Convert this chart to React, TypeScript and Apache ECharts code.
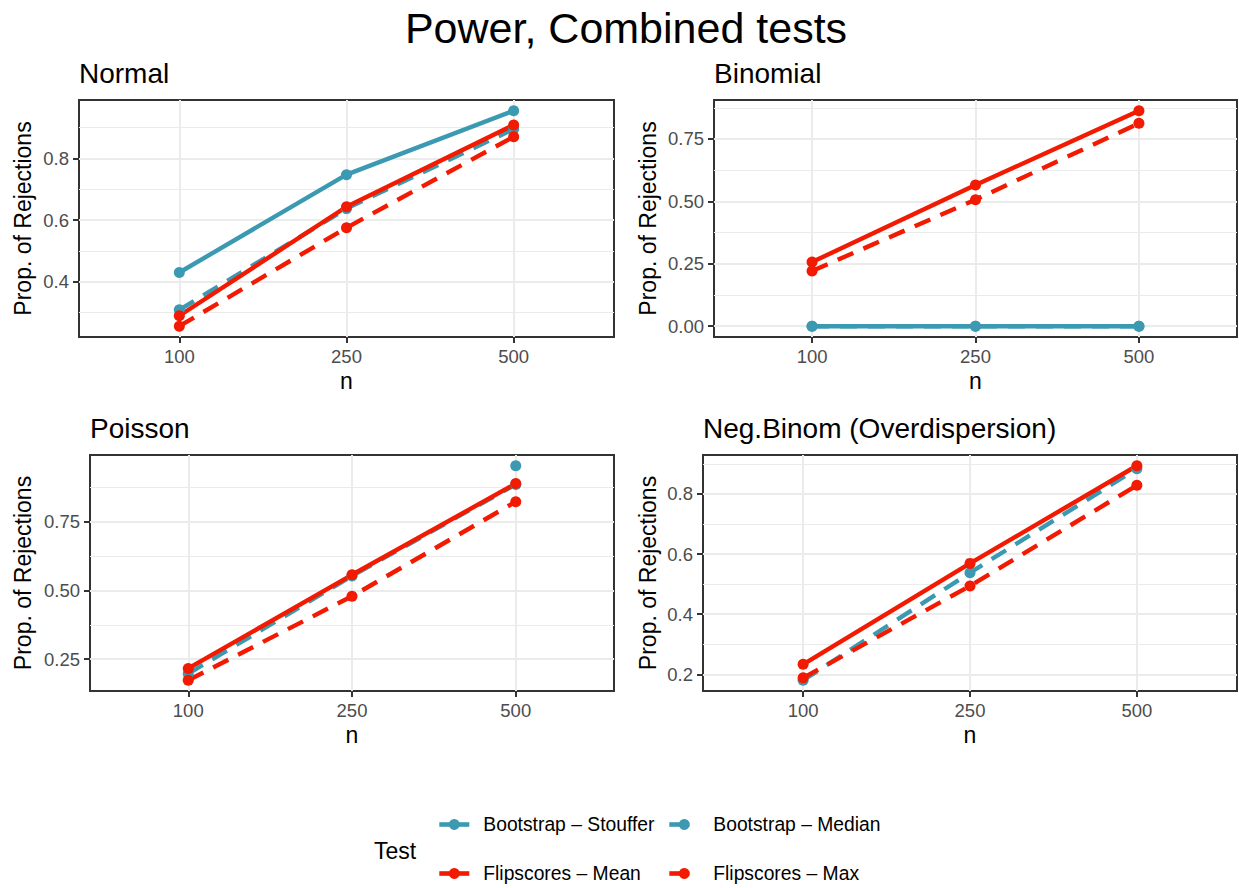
import React, { useEffect, useRef } from 'react';
import * as echarts from 'echarts';

// ---------- data ----------
const nLabels = ['100', '250', '500'];
const testNames = ['Bootstrap – Stouffer', 'Bootstrap – Median', 'Flipscores – Mean', 'Flipscores – Max'];
const panelTitles = ['Normal', 'Binomial', 'Poisson', 'Neg.Binom (Overdispersion)'];

const normalStouffer = [0.43, 0.747, 0.954];
const normalMedian = [0.309, 0.637, 0.895];
const normalMean = [0.29, 0.643, 0.908];
const normalMax = [0.256, 0.575, 0.87];

const binomialStouffer = [0, 0, 0];
const binomialMedian = [0, 0, 0];
const binomialMean = [0.257, 0.566, 0.863];
const binomialMax = [0.221, 0.507, 0.813];

const poissonStouffer = [null, null, 0.954];
const poissonMedian = [0.197, 0.553, 0.886];
const poissonMean = [0.216, 0.557, 0.889];
const poissonMax = [0.173, 0.479, 0.823];

const negbinStouffer = [null, null, null];
const negbinMedian = [0.18, 0.538, 0.884];
const negbinMean = [0.233, 0.569, 0.894];
const negbinMax = [0.188, 0.494, 0.829];

const normalTicks = [0.4, 0.6, 0.8];
const normalTickLabels = ['0.4', '0.6', '0.8'];
const normalMinor = [0.3, 0.5, 0.7, 0.9];
const binomialTicks = [0, 0.25, 0.5, 0.75];
const binomialTickLabels = ['0.00', '0.25', '0.50', '0.75'];
const binomialMinor = [0.125, 0.375, 0.625, 0.875];
const poissonTicks = [0.25, 0.5, 0.75];
const poissonTickLabels = ['0.25', '0.50', '0.75'];
const poissonMinor = [0.375, 0.625, 0.875];
const negbinTicks = [0.2, 0.4, 0.6, 0.8];
const negbinTickLabels = ['0.2', '0.4', '0.6', '0.8'];
const negbinMinor = [0.3, 0.5, 0.7, 0.9];

// ---------- styling / layout ----------
const TEAL = '#3B9AB2';
const RED = '#F21A00';
const FONT = "'Liberation Sans', Arial, Helvetica, sans-serif";
const seriesStyles = [
  { color: TEAL, dashed: false },
  { color: TEAL, dashed: true },
  { color: RED, dashed: false },
  { color: RED, dashed: true },
];
const DASH = [17, 11];
const LINE_W = 4.4;
const SYM = 11;

const panels = [
  { title: panelTitles[0], values: [normalStouffer, normalMedian, normalMean, normalMax], ticks: normalTicks, labels: normalTickLabels, minor: normalMinor },
  { title: panelTitles[1], values: [binomialStouffer, binomialMedian, binomialMean, binomialMax], ticks: binomialTicks, labels: binomialTickLabels, minor: binomialMinor },
  { title: panelTitles[2], values: [poissonStouffer, poissonMedian, poissonMean, poissonMax], ticks: poissonTicks, labels: poissonTickLabels, minor: poissonMinor },
  { title: panelTitles[3], values: [negbinStouffer, negbinMedian, negbinMean, negbinMax], ticks: negbinTicks, labels: negbinTickLabels, minor: negbinMinor },
];

const grids = [
  { left: 79, top: 100, width: 535, height: 237, yTitleX: 23 },
  { left: 714, top: 100, width: 523, height: 237, yTitleX: 648 },
  { left: 90, top: 455, width: 524, height: 236, yTitleX: 23 },
  { left: 703, top: 455, width: 534, height: 236, yTitleX: 648 },
];

function yRange(values: (number | null)[][]) {
  const all = values.flat().filter((v) => v !== null) as number[];
  const lo = Math.min(...all);
  const hi = Math.max(...all);
  const pad = (hi - lo) * 0.05;
  return [lo - pad, hi + pad];
}

function buildOption() {
  const xAxis: any[] = [];
  const yAxis: any[] = [];
  const minorY: any[] = [];
  const series: any[] = [];
  const graphic: any[] = [];

  graphic.push({
    type: 'text',
    x: 626,
    y: 28,
    style: { text: 'Power, Combined tests', font: `43px ${FONT}`, fill: '#000', textAlign: 'center', textVerticalAlign: 'middle', align: 'center', verticalAlign: 'middle' },
  });

  panels.forEach((p, i) => {
    const g = grids[i];
    const [lo, hi] = yRange(p.values);
    xAxis.push({
      type: 'value',
      gridIndex: i,
      position: 'bottom',
      min: -0.6,
      max: 2.6,
      axisLine: { show: false, onZero: false },
      axisTick: { show: true, customValues: [0, 1, 2], length: 6, lineStyle: { color: '#333333', width: 2 } },
      axisLabel: {
        customValues: [0, 1, 2],
        formatter: (v: number) => nLabels[Math.round(v)],
        color: '#4D4D4D',
        fontSize: 18.5,
        fontFamily: FONT,
        margin: 10,
      },
      splitLine: { show: true, lineStyle: { color: '#EBEBEB', width: 2 } },
    });
    yAxis.push({
      type: 'value',
      gridIndex: i,
      position: 'left',
      min: lo,
      max: hi,
      axisLine: { show: false, onZero: false },
      axisTick: { show: true, customValues: p.ticks, length: 6, lineStyle: { color: '#333333', width: 2 } },
      axisLabel: {
        customValues: p.ticks,
        formatter: (v: number) => {
          const k = p.ticks.findIndex((t) => Math.abs(t - v) < 1e-9);
          return k >= 0 ? p.labels[k] : '';
        },
        color: '#4D4D4D',
        fontSize: 18.5,
        fontFamily: FONT,
        margin: 10,
      },
      splitLine: { show: true, lineStyle: { color: '#EBEBEB', width: 2 } },
    });
    minorY.push({
      type: 'value',
      gridIndex: i,
      position: 'left',
      min: lo,
      max: hi,
      axisLine: { show: false, onZero: false },
      axisTick: { show: false, customValues: p.minor },
      axisLabel: { show: false, customValues: p.minor },
      splitLine: { show: true, lineStyle: { color: '#EBEBEB', width: 1 } },
    });

    p.values.forEach((vals, s) => {
      const st = seriesStyles[s];
      series.push({
        type: 'line',
        name: testNames[s],
        xAxisIndex: i,
        yAxisIndex: i,
        data: vals.map((v, k) => [k, v === null ? '-' : v]),
        connectNulls: false,
        symbol: 'circle',
        symbolSize: SYM,
        showSymbol: true,
        itemStyle: { color: st.color },
        lineStyle: { color: st.color, width: LINE_W, type: st.dashed ? DASH : 'solid', cap: 'butt' },
        z: 3,
      });
    });

    graphic.push({
      type: 'text',
      x: g.left,
      y: g.top - 27,
      style: { text: p.title, font: `28px ${FONT}`, fill: '#000', textAlign: 'left', textVerticalAlign: 'middle', align: 'left', verticalAlign: 'middle' },
    });
    graphic.push({
      type: 'text',
      x: g.yTitleX,
      y: g.top + g.height / 2,
      rotation: Math.PI / 2,
      style: { text: 'Prop. of Rejections', font: `23px ${FONT}`, fill: '#000', textAlign: 'center', textVerticalAlign: 'middle', align: 'center', verticalAlign: 'middle' },
    });
    graphic.push({
      type: 'text',
      x: g.left + g.width / 2,
      y: g.top + g.height + 44,
      style: { text: 'n', font: `23px ${FONT}`, fill: '#000', textAlign: 'center', textVerticalAlign: 'middle', align: 'center', verticalAlign: 'middle' },
    });
  });

  graphic.push({
    type: 'text',
    x: 374,
    y: 851,
    style: { text: 'Test', font: `23px ${FONT}`, fill: '#000', textAlign: 'left', textVerticalAlign: 'middle', align: 'left', verticalAlign: 'middle' },
  });

  const legendPos = [
    { left: 437, top: 815 },
    { left: 667, top: 815 },
    { left: 437, top: 864 },
    { left: 667, top: 864 },
  ];
  const legend = testNames.map((name, k) => ({
    data: [name],
    left: legendPos[k].left,
    top: legendPos[k].top,
    padding: 0,
    itemWidth: 30,
    itemHeight: 13.5,
    selectedMode: false,
    lineStyle: { width: 4.6, type: seriesStyles[k].dashed ? [20, 10] : 'solid', cap: 'butt' },
    textStyle: { fontSize: 19.3, color: '#000', fontFamily: FONT, padding: [0, 0, 0, 9] },
  }));

  return {
    animation: false,
    backgroundColor: '#ffffff',
    grid: grids.map((g) => ({
      left: g.left,
      top: g.top,
      width: g.width,
      height: g.height,
      show: true,
      borderColor: '#333333',
      borderWidth: 2,
      backgroundColor: 'transparent',
      containLabel: false,
    })),
    xAxis,
    yAxis: [...yAxis, ...minorY],
    series,
    legend,
    graphic,
  };
}

export default function App() {
  const ref = useRef<HTMLDivElement>(null);
  useEffect(() => {
    document.body.style.margin = '0';
    if (!ref.current) return;
    const chart = echarts.init(ref.current, null, { renderer: 'svg' });
    chart.setOption(buildOption() as any);
    return () => chart.dispose();
  }, []);
  return <div ref={ref} style={{ width: 1239, height: 888 }} />;
}
